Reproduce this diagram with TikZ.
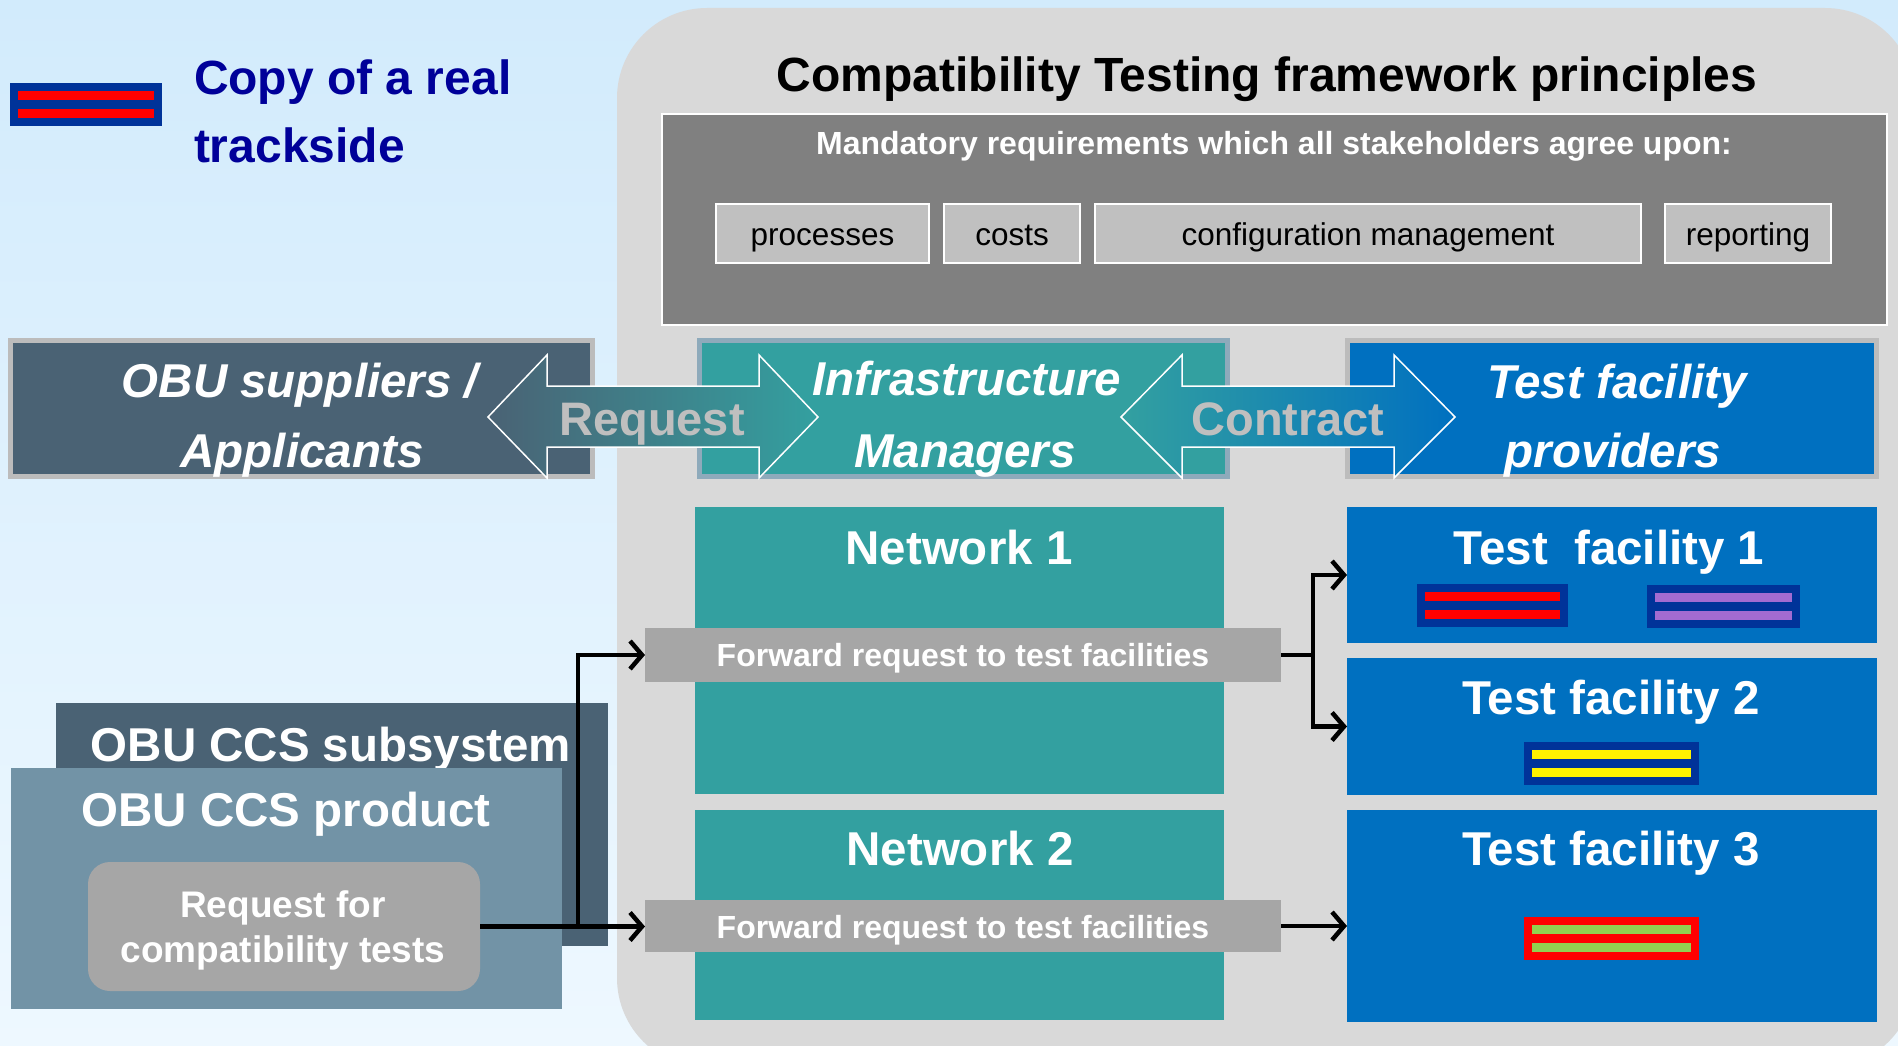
\documentclass[tikz,border=0pt]{standalone}
\usepackage{fontspec}
\setmainfont{Liberation Sans}
\usetikzlibrary{arrows.meta,fit}
\definecolor{bgtop}{HTML}{D2EBFC}
\definecolor{bgbot}{HTML}{EEF8FF}
\definecolor{panelgray}{HTML}{D9D9D9}
\definecolor{mandgray}{HTML}{808080}
\definecolor{smallgray}{HTML}{C0C0C0}
\definecolor{fwdgray}{HTML}{A6A6A6}
\definecolor{slate}{HTML}{4A6274}
\definecolor{slatelight}{HTML}{7293A6}
\definecolor{teal}{HTML}{33A0A0}
\definecolor{tblue}{HTML}{0070C0}
\definecolor{iconblue}{HTML}{003399}
\definecolor{tpurple}{HTML}{A36BD1}
\definecolor{tgreen}{HTML}{92D050}
\definecolor{legblue}{HTML}{000099}
\definecolor{hdrborder}{HTML}{BCBCBC}
\definecolor{imborder}{HTML}{8EAABB}
\definecolor{arrowtext}{HTML}{BFBFBF}
\newcommand\trackicon[6]{%
  \node[fit={(#2,#3)({#2+#4},{#3+43})}, inner sep=0pt, outer sep=0pt, fill=#5] (#1) {};
  \fill[#6] ({#2+8},{#3+8}) rectangle ({#2+#4-8},{#3+17});
  \fill[#6] ({#2+8},{#3+26}) rectangle ({#2+#4-8},{#3+35});
}
\tikzset{
  area/.style={inner sep=0pt, outer sep=0pt},
  txt/.style={inner sep=0pt, outer sep=0pt, anchor=base},
  big/.style={txt, text=white, font=\fontsize{47.5}{50}\selectfont\bfseries},
  bigit/.style={txt, text=white, font=\fontsize{47.5}{50}\selectfont\bfseries\itshape},
  arrowlbl/.style={txt, text=arrowtext, font=\fontsize{47}{50}\selectfont\bfseries},
  smalltxt/.style={txt, text=black, font=\fontsize{31.5}{34}\selectfont},
  fwdtxt/.style={txt, text=white, font=\fontsize{32}{34}\selectfont\bfseries},
  smallbox/.style={area, fill=smallgray, draw=white, line width=2pt},
  hdrbox/.style={area, line width=5pt},
  conn/.style={line width=4.5pt, -{Straight Barb[length=12pt,width=28pt]}},
  plainline/.style={line width=4.5pt},
  dblarrow/.style={draw=white, line width=1.5pt}
}
\begin{document}
\begin{tikzpicture}[x=1pt,y=-1pt]
\useasboundingbox (0,0) rectangle (1898,1046);
\shade[top color=bgtop, bottom color=bgbot] (0,0) rectangle (1898,1046);
\begin{scope}
  \clip (0,0) rectangle (1898,1046);
  \fill[panelgray, rounded corners=90pt] (617,8) rectangle (1915,1068);
\end{scope}

% legend
\trackicon{leg}{10}{83}{152}{iconblue}{red}
\node[txt, anchor=base west, text=legblue, font=\fontsize{48}{50}\selectfont\bfseries] (leg1) at (194,95) {Copy of a real};
\node[txt, anchor=base west, text=legblue, font=\fontsize{48}{50}\selectfont\bfseries] (leg2) at (194,163) {trackside};

% title and mandatory requirements
\node[txt, text=black, font=\fontsize{48}{50}\selectfont\bfseries] (title) at (1267,92) {Compatibility Testing framework principles};
\node[area, fill=mandgray, draw=white, line width=2pt, fit={(662,114)(1887,325)}] (mand) {};
\node[fwdtxt] (mandtxt) at (1274,154) {Mandatory requirements which all stakeholders agree upon:};
\node[smallbox, fit={(716,204)(929,263)}] (proc) {};
\node[smallbox, fit={(944,204)(1080,263)}] (cost) {};
\node[smallbox, fit={(1095,204)(1641,263)}] (conf) {};
\node[smallbox, fit={(1665,204)(1831,263)}] (rep) {};
\node[smalltxt] (proct) at (822.5,245) {processes};
\node[smalltxt] (costt) at (1012,245) {costs};
\node[smalltxt] (conft) at (1368,245) {configuration management};
\node[smalltxt] (rept) at (1748,245) {reporting};

% header boxes
\node[hdrbox, draw=hdrborder, fill=slate, fit={(10.5,340.5)(592.5,476.5)}] (obu) {};
\node[hdrbox, draw=imborder, fill=teal, fit={(699.5,340.5)(1227.5,476.5)}] (im) {};
\node[hdrbox, draw=hdrborder, fill=tblue, fit={(1347.5,340.5)(1876.5,476.5)}] (tfp) {};

% double arrows
\path[dblarrow, left color=slate, right color=teal]
  (488,417) -- (547,355) -- (547,386) -- (759,386) -- (759,355) -- (818,417)
  -- (759,478) -- (759,447) -- (547,447) -- (547,478) -- cycle;
\path[dblarrow, left color=teal, right color=tblue]
  (1121,417) -- (1182,355) -- (1182,386) -- (1394,386) -- (1394,355) -- (1455,417)
  -- (1394,478) -- (1394,447) -- (1182,447) -- (1182,478) -- cycle;

\node[bigit] (obu1) at (300,397) {OBU suppliers /};
\node[bigit] (obu2) at (302,467) {Applicants};
\node[bigit] (im1) at (967,395) {Infrastructure};
\node[bigit] (im2) at (965,467) {Managers};
\node[bigit] (tfp1) at (1617,398) {Test facility};
\node[bigit] (tfp2) at (1613,467) {providers};
\node[arrowlbl] (reqlbl) at (652,435) {Request};
\node[arrowlbl] (conlbl) at (1288,435) {Contract};

% networks
\node[area, fill=teal, fit={(695,507)(1224,794)}] (net1) {};
\node[area, fill=teal, fit={(695,810)(1224,1020)}] (net2) {};
\node[big] (net1t) at (959,564) {Network 1};
\node[big] (net2t) at (960,865) {Network 2};
\node[area, fill=fwdgray, fit={(645,628)(1281,682)}] (fwd1) {};
\node[area, fill=fwdgray, fit={(645,900)(1281,952)}] (fwd2) {};
\node[fwdtxt] (fwd1t) at (963,666) {Forward request to test facilities};
\node[fwdtxt] (fwd2t) at (963,938) {Forward request to test facilities};

% test facilities
\node[area, fill=tblue, fit={(1347,507)(1877,643)}] (tf1) {};
\node[area, fill=tblue, fit={(1347,658)(1877,795)}] (tf2) {};
\node[area, fill=tblue, fit={(1347,810)(1877,1022)}] (tf3) {};
\node[big] (tf1t) at (1609,564) {Test\ \ facility 1};
\node[big] (tf2t) at (1611,714) {Test facility 2};
\node[big] (tf3t) at (1611,865) {Test facility 3};
\trackicon{ic1a}{1417}{584}{151}{iconblue}{red}
\trackicon{ic1b}{1647}{585}{153}{iconblue}{tpurple}
\trackicon{ic2}{1524}{742}{175}{iconblue}{yellow}
\trackicon{ic3}{1524}{917}{175}{red}{tgreen}

% OBU CCS
\node[area, fill=slate, fit={(56,703)(608,946)}] (sub) {};
\node[big] (subt) at (331,761) {OBU CCS subsystem};
\node[area, fill=slatelight, fit={(11,768)(562,1009)}] (prod) {};
\node[big] (prodt) at (286,826) {OBU CCS product};
\node[area, fill=fwdgray, rounded corners=22pt, fit={(88,862)(480,991)}] (reqbox) {};
\node[txt, text=white, font=\fontsize{37}{40}\selectfont\bfseries] (reqt1) at (283,917) {Request for};
\node[txt, text=white, font=\fontsize{37}{40}\selectfont\bfseries] (reqt2) at (283,962) {compatibility tests};

% connectors
\coordinate (j1) at (578,926);
\coordinate (j2) at (1313,655);
\draw[conn] (reqbox.east) -- (reqbox.east -| fwd2.west);
\draw[conn] (j1) |- (fwd1.west);
\draw[plainline] (fwd1.east) -- (j2);
\draw[conn] (j2) |- (tf1.west);
\draw[conn] (j2) |- (tf2.west);
\draw[conn] (fwd2.east) -- (fwd2.east -| tf3.west);
\end{tikzpicture}
\end{document}
